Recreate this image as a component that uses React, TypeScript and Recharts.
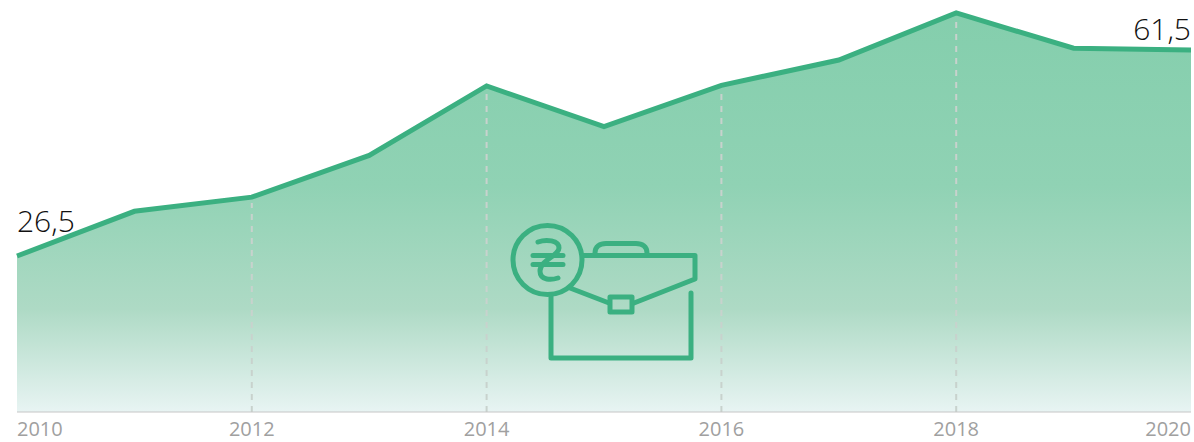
import { Area, AreaChart, LabelList, ReferenceLine, XAxis, YAxis } from "recharts";

const years = ["2010", "2011", "2012", "2013", "2014", "2015", "2016", "2017", "2018", "2019", "2020"];
const values = [26.5, 34.1, 36.5, 43.6, 55.4, 48.5, 55.5, 59.8, 67.8, 61.8, 61.5];
const tickYears = ["2010", "2012", "2014", "2016", "2018", "2020"];
const gridYears = ["2012", "2014", "2016", "2018"];
const labeled = ["26,5", "", "", "", "", "", "", "", "", "", "61,5"];

const data = years.map((year, i) => ({ year, value: values[i], label: labeled[i] }));
const font = "'Open Sans', sans-serif";

function YearTick({ x, y, payload }: any) {
  const anchor = payload.value === "2010" ? "start" : payload.value === "2020" ? "end" : "middle";
  return (
    <text x={x} y={y + 16} textAnchor={anchor} fontFamily={font} fontSize={20} fill="#a0a0a0">
      {payload.value}
    </text>
  );
}

function ValueLabel({ x, y, index }: any) {
  const text = labeled[index];
  if (!text) return null;
  return (
    <text x={x} y={y - (index === 0 ? 24 : 10)} textAnchor={index === 0 ? "start" : "end"} fontFamily={font} fontWeight={300} fontSize={30} fill="#111">
      {text}
    </text>
  );
}

function Icon() {
  return (
    <svg width={1194} height={442} style={{ position: "absolute", left: 0, top: 0 }}>
      <g fill="none" stroke="#3bb081" strokeWidth={5} strokeLinejoin="round" strokeLinecap="round">
        <circle cx={547.5} cy={260} r={34.5} />
        <path d="M583 255.5H695V279L634 303" />
        <path d="M570 288L609 303" />
        <rect x={610} y={297} width={22} height={15} />
        <path d="M551 296V358H691V293" />
        <path d="M595 253C595 246 600 243.500 606 243.500H636C642 243.500 647 246 647 253" />
        <path d="M538 242C546 239 559 240 559 248C559 256 540 260 540 271C540 281 552 280 558 278" />
        <path d="M533 255.500H563M533 264.500H563" />
      </g>
    </svg>
  );
}

export default function App() {
  return (
    <div style={{ position: "absolute", left: 0, top: 0, width: 1194, height: 442 }}>
      <AreaChart width={1194} height={442} data={data} margin={{ top: 0, right: 3, bottom: 0, left: 17 }}>
        <defs>
          <linearGradient id="fade" gradientUnits="userSpaceOnUse" x1={0} y1={0} x2={0} y2={412}>
            <stop offset="0%" stopColor="#83ceac" />
            <stop offset="45%" stopColor="#90d2b4" />
            <stop offset="75%" stopColor="#aedac5" />
            <stop offset="100%" stopColor="#e8f4f3" />
          </linearGradient>
        </defs>
        <YAxis hide domain={[0, 70]} />
        <XAxis
          dataKey="year"
          ticks={tickYears}
          interval={0}
          height={30}
          tick={<YearTick />}
          tickLine={false}
          axisLine={{ stroke: "#c6c6c6", strokeWidth: 1 }}
        />
        <Area
          type="linear"
          dataKey="value"
          stroke="#3bb081"
          strokeWidth={5}
          fill="url(#fade)"
          fillOpacity={1}
          dot={false}
          activeDot={false}
          isAnimationActive={false}
        >
          <LabelList dataKey="label" content={<ValueLabel />} />
        </Area>
        {gridYears.map((year) => (
          <ReferenceLine
            key={year}
            segment={[{ x: year, y: 0 }, { x: year, y: values[years.indexOf(year)] - 1 }]}
            stroke="#c8d2cd"
            strokeWidth={2}
            strokeDasharray="6 6"
          />
        ))}
      </AreaChart>
      <Icon />
    </div>
  );
}
